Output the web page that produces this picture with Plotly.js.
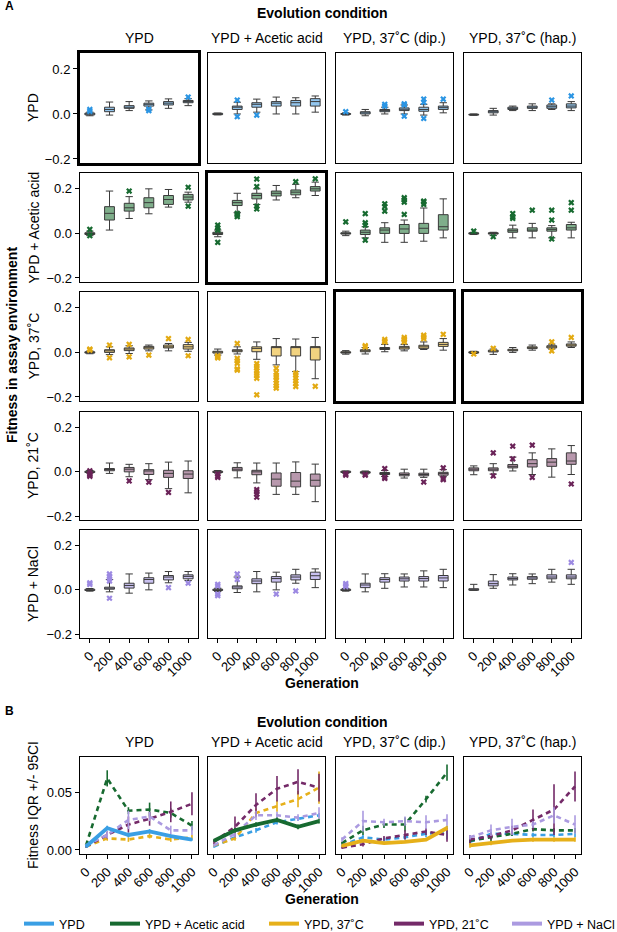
<!DOCTYPE html>
<html><head><meta charset="utf-8">
<script src="https://cdn.plot.ly/plotly-3.0.1.min.js"></script>
<style>html,body{margin:0;padding:0;background:#fff}#chart{width:617px;height:932px}</style>
</head><body><div id="chart"></div>
<script>
// ---------------- DATA ----------------
const generations = ['0','200','400','600','800','1000'];
const genNum = [0,200,400,600,800,1000];
const evoConditions = ['YPD','YPD + Acetic acid','YPD, 37˚C (dip.)','YPD, 37˚C (hap.)'];
const assayEnvs = ['YPD','YPD + Acetic acid','YPD, 37˚C','YPD, 21˚C','YPD + NaCl'];
const assayColors = ['#3a9fe4','#176a30','#e6b01a','#742a68','#ab9ae0'];
const boxFills = ['#93c6ee','#7fae8b','#f2d380','#b898ad','#c9c1f0'];
const outlierColors = ['#2b95e3','#176a30','#e3aa12','#6a2358','#9c89e2'];

// Panel A: box statistics per assay environment (row), one inner array per evolution condition (column)
const ypd_q1  = [[-0.004,0.01,0.025,0.035,0.04,0.05],[-0.003,0.02,0.03,0.035,0.035,0.035],[-0.002,0,0.01,0.015,0.012,0.02],[-0.005,0.005,0.02,0.025,0.025,0.027]];
const ypd_med = [[0,0.02,0.03,0.043,0.048,0.055],[0,0.03,0.043,0.048,0.05,0.055],[0,0.005,0.015,0.021,0.02,0.028],[-0.003,0.01,0.025,0.03,0.032,0.035]];
const ypd_q3  = [[0.004,0.03,0.037,0.048,0.055,0.06],[0.003,0.035,0.05,0.055,0.06,0.068],[0.002,0.01,0.02,0.027,0.03,0.035],[-0.001,0.015,0.03,0.035,0.04,0.045]];
const ypd_lo  = [[-0.008,-0.005,0.015,0.018,0.025,0.037],[-0.004,0,0.008,0,0,0.008],[-0.005,-0.008,0,0,-0.005,0.005],[-0.006,-0.005,0.015,0.015,0.02,0.015]];
const ypd_hi  = [[0.008,0.053,0.055,0.058,0.067,0.068],[0.004,0.052,0.066,0.075,0.072,0.08],[0.005,0.02,0.03,0.04,0.043,0.05],[0,0.025,0.035,0.045,0.045,0.055]];
const ypd_out = [[0,'0',0.02],[0,'0',0.012],[0,'600',0.022],[0,'600',0.015],[0,'1000',0.075],
  [1,'200',0.062],[1,'200',-0.012],[1,'400',-0.005],
  [2,'0',0.01],[2,'400',0.035],[2,'400',0.043],[2,'600',0.045],[2,'600',0.04],[2,'600',-0.01],[2,'800',0.066],[2,'800',0.052],[2,'800',-0.02],[2,'1000',0.066],
  [3,'800',0.062],[3,'1000',0.08]];

const aa_q1  = [[-0.005,0.06,0.1,0.115,0.13,0.15],[-0.005,0.125,0.155,0.168,0.173,0.19],[-0.003,-0.005,0,0,0,0.015],[-0.003,-0.003,0.005,0.01,0.01,0.015]];
const aa_med = [[0,0.09,0.115,0.138,0.152,0.163],[0,0.138,0.17,0.18,0.185,0.2],[0,0.005,0.015,0.02,0.023,0.03],[0,0,0.012,0.015,0.018,0.025]];
const aa_q3  = [[0.003,0.12,0.135,0.16,0.17,0.175],[0.005,0.148,0.18,0.19,0.195,0.21],[0.003,0.015,0.025,0.04,0.045,0.084],[0.003,0.003,0.02,0.025,0.025,0.04]];
const aa_lo  = [[-0.01,0.015,0.067,0.088,0.118,0.14],[-0.015,0.093,0.13,0.15,0.16,0.17],[-0.01,-0.02,-0.04,-0.04,-0.035,-0.02],[-0.005,-0.01,-0.02,-0.02,-0.02,-0.02]];
const aa_hi  = [[0.01,0.19,0.165,0.2,0.197,0.185],[0.015,0.18,0.2,0.215,0.22,0.23],[0.01,0.03,0.048,0.06,0.114,0.155],[0.005,0.005,0.037,0.045,0.035,0.05]];
const aa_out = [[0,'0',0.018],[0,'0',-0.01],[0,'400',0.19],[0,'1000',0.207],[0,'1000',0.122],
  [1,'0',0.037],[1,'0',0.025],[1,'0',0.015],[1,'0',-0.04],[1,'200',0.09],[1,'200',0.082],[1,'200',0.075],[1,'400',0.244],[1,'400',0.21],[1,'400',0.122],[1,'400',0.11],[1,'800',0.232],[1,'1000',0.245],
  [2,'0',0.052],[2,'200',0.089],[2,'200',0.048],[2,'200',0.037],[2,'200',-0.03],[2,'400',0.133],[2,'400',0.12],[2,'400',0.1],[2,'600',0.16],[2,'600',0.15],[2,'600',0.14],[2,'600',0.085],[2,'800',0.145],[2,'800',0.14],[2,'800',0.13],
  [3,'0',0.01],[3,'200',-0.015],[3,'400',0.089],[3,'400',0.074],[3,'400',0.067],[3,'600',0.104],[3,'800',0.104],[3,'800',0.06],[3,'800',-0.025],[3,'1000',0.138],[3,'1000',0.104]];

const t37_q1  = [[-0.003,0,0.008,0.015,0.02,0.015],[-0.003,0.003,0.003,-0.016,-0.016,-0.034],[-0.003,0.003,0.013,0.015,0.018,0.027],[-0.003,0.002,0.007,0.017,0.02,0.028]];
const t37_med = [[0,0.007,0.015,0.021,0.025,0.025],[0.003,0.009,0.018,0.022,0.022,0.024],[0,0.007,0.018,0.021,0.025,0.036],[0,0.006,0.01,0.021,0.025,0.033]];
const t37_q3  = [[0.003,0.012,0.02,0.027,0.033,0.035],[0.005,0.012,0.025,0.026,0.026,0.026],[0.003,0.012,0.022,0.027,0.032,0.045],[0.003,0.01,0.014,0.025,0.03,0.038]];
const t37_lo  = [[-0.006,-0.01,-0.005,0.007,0.007,0.005],[-0.012,-0.007,-0.031,-0.056,-0.086,-0.118],[-0.008,-0.007,0.003,0.007,0.013,0.01],[-0.005,-0.009,0,0.01,0.015,0.022]];
const t37_hi  = [[0.006,0.025,0.03,0.033,0.04,0.045],[0.015,0.025,0.047,0.062,0.06,0.067],[0.008,0.022,0.036,0.036,0.047,0.062],[0.005,0.015,0.022,0.033,0.037,0.047]];
const t37_out = [[0,'0',0.015],[0,'0',0.01],[0,'200',0.033],[0,'200',-0.024],[0,'400',0.036],[0,'400',-0.02],[0,'600',-0.012],[0,'800',0.062],[0,'1000',0.058],[0,'1000',-0.015],
  [1,'0',-0.015],[1,'0',-0.02],[1,'0',-0.025],[1,'200',0.04],[1,'200',-0.027],[1,'200',-0.038],[1,'200',-0.049],[1,'200',-0.074],[1,'200',-0.08],
  [1,'400',-0.05],[1,'400',-0.062],[1,'400',-0.07],[1,'400',-0.083],[1,'400',-0.094],[1,'400',-0.104],[1,'400',-0.116],[1,'400',-0.19],
  [1,'600',-0.071],[1,'600',-0.09],[1,'600',-0.103],[1,'600',-0.112],[1,'600',-0.125],[1,'600',-0.138],[1,'600',-0.15],[1,'600',-0.16],
  [1,'800',-0.093],[1,'800',-0.102],[1,'800',-0.115],[1,'800',-0.128],[1,'800',-0.14],[1,'800',-0.153],[1,'1000',-0.152],
  [2,'200',0.03],[2,'200',0.025],[2,'400',0.058],[2,'400',0.05],[2,'400',0.047],[2,'600',0.067],[2,'600',0.06],[2,'600',0.055],[2,'600',0.047],[2,'800',0.077],[2,'800',0.07],[2,'800',0.062],[2,'1000',0.081],
  [3,'0',-0.007],[3,'200',0.018],[3,'800',0.047],[3,'800',0.007],[3,'1000',0.067]];

const t21_q1  = [[-0.003,0.005,0,-0.012,-0.025,-0.03],[-0.003,0.005,-0.013,-0.065,-0.068,-0.065],[-0.003,-0.006,-0.012,-0.018,-0.018,-0.015],[0.005,0.005,0.018,0.022,0.025,0.034]];
const t21_med = [[0,0.012,0.012,0.004,-0.007,-0.01],[0,0.012,0,-0.033,-0.042,-0.038],[0,-0.003,-0.007,-0.012,-0.012,-0.007],[0.012,0.012,0.025,0.037,0.044,0.049]];
const t21_q3  = [[0.003,0.015,0.02,0.01,0.007,0.005],[0.003,0.02,0.007,-0.005,-0.003,-0.01],[0.003,0.001,-0.003,-0.005,-0.006,-0.002],[0.018,0.018,0.033,0.055,0.06,0.086]];
const t21_lo  = [[-0.006,-0.007,-0.022,-0.035,-0.076,-0.095],[-0.006,-0.027,-0.05,-0.102,-0.102,-0.135],[-0.006,-0.01,-0.021,-0.028,-0.025,-0.022],[-0.013,-0.01,0.004,-0.012,-0.024,-0.012]];
const t21_hi  = [[0.006,0.04,0.034,0.037,0.044,0.049],[0.006,0.041,0.04,0.04,0.045,0.035],[0.004,0.004,0.006,0.012,0.012,0.01],[0.027,0.037,0.067,0.086,0.104,0.119]];
const t21_out = [[0,'0',-0.01],[0,'0',-0.015],[0,'0',-0.02],[0,'0',0.005],[0,'400',-0.041],[0,'600',-0.047],[0,'800',-0.093],
  [1,'0',-0.01],[1,'0',-0.02],[1,'0',-0.025],[1,'400',-0.08],[1,'400',-0.09],[1,'400',-0.1],[1,'400',-0.115],
  [2,'0',-0.008],[2,'0',-0.015],[2,'200',-0.012],[2,'200',-0.015],[2,'400',0.015],[2,'400',-0.025],[2,'400',-0.03],[2,'800',-0.046],[2,'1000',0.018],[2,'1000',-0.03],[2,'1000',-0.035],
  [3,'200',0.086],[3,'200',-0.018],[3,'400',0.116],[3,'400',0.059],[3,'600',0.121],[3,'600',-0.025],[3,'1000',-0.055]];

const nacl_q1  = [[-0.003,0.003,0.008,0.03,0.045,0.05],[-0.003,0.005,0.028,0.035,0.045,0.047],[-0.003,0.01,0.035,0.04,0.04,0.04],[-0.002,0.018,0.045,0.048,0.05,0.05]];
const nacl_med = [[0,0.01,0.02,0.047,0.058,0.061],[0,0.013,0.04,0.051,0.058,0.064],[0,0.022,0.047,0.05,0.051,0.054],[0.003,0.028,0.051,0.054,0.058,0.058]];
const nacl_q3  = [[0.003,0.012,0.03,0.055,0.065,0.068],[0.003,0.018,0.05,0.06,0.068,0.08],[0.003,0.03,0.055,0.058,0.06,0.065],[0.005,0.04,0.058,0.06,0.068,0.068]];
const nacl_lo  = [[-0.006,-0.009,-0.015,0,0.032,0.042],[-0.007,-0.012,-0.009,0,0.03,0.01],[-0.006,-0.009,0.007,0.013,0.013,0.01],[0,0.007,0.022,0.028,0.035,0.025]];
const nacl_hi  = [[0.006,0.047,0.072,0.076,0.083,0.083],[0.007,0.058,0.083,0.08,0.093,0.095],[0.006,0.072,0.073,0.072,0.086,0.093],[0.025,0.069,0.073,0.072,0.093,0.093]];
const nacl_out = [[0,'0',0.032],[0,'0',0.025],[0,'200',0.072],[0,'200',0.061],[0,'200',0.05],[0,'200',0.04],[0,'200',-0.038],[0,'800',0.01],[0,'1000',0.03],
  [1,'0',0.025],[1,'0',0.018],[1,'0',-0.019],[1,'0',-0.026],[1,'200',0.072],[1,'200',0.047],[1,'600',-0.019],[1,'800',-0.005],
  [2,'0',0.028],[2,'0',0.02],[2,'0',0.015],
  [3,'1000',0.124]];

// Panel B: fitness IQR per evolution condition (column); rows = assay env order
const iqr_ypd = [[0.003,0.019,0.013,0.016,0.012,0.009],[0.004,0.062,0.034,0.035,0.032,0.021],[0.003,0.01,0.009,0.012,0.009,0.011],[0.003,0.013,0.022,0.027,0.033,0.04],[0.004,0.013,0.026,0.029,0.017,0.017]];
const ci_ypd  = [[0.001,0.002,0.002,0.002,0.001,0.001],[0.001,0.007,0.003,0.006,0.004,0.004],[0.001,0.002,0.002,0.002,0.002,0.002],[0.001,0.003,0.007,0.006,0.009,0.01],[0.001,0.003,0.008,0.004,0.004,0.004]];
const iqr_aa  = [[0.003,0.011,0.017,0.024,0.027,0.03],[0.008,0.017,0.022,0.026,0.02,0.025],[0.004,0.01,0.032,0.038,0.044,0.054],[0.007,0.02,0.039,0.053,0.059,0.054],[0.004,0.014,0.03,0.03,0.028,0.032]];
const ci_aa   = [[0.001,0.002,0.002,0.002,0.002,0.002],[0.001,0.002,0.002,0.002,0.002,0.002],[0.001,0.002,0.004,0.005,0.007,0.014],[0.002,0.009,0.01,0.011,0.011,0.012],[0.001,0.003,0.004,0.003,0.003,0.005]];
const iqr_dip = [[0.004,0.011,0.009,0.011,0.014,0.015],[0.006,0.017,0.022,0.022,0.044,0.067],[0.0035,0.008,0.006,0.007,0.009,0.019],[0.002,0.005,0.01,0.013,0.016,0.013],[0.009,0.025,0.024,0.025,0.024,0.026]];
const ci_dip  = [[0.001,0.002,0.002,0.002,0.003,0.006],[0.001,0.004,0.003,0.006,0.003,0.007],[0.001,0.001,0.001,0.001,0.001,0.002],[0.001,0.002,0.002,0.004,0.003,0.006],[0.002,0.009,0.003,0.004,0.006,0.005]];
const iqr_hap = [[0.007,0.014,0.014,0.013,0.013,0.014],[0.008,0.011,0.014,0.018,0.017,0.017],[0.004,0.006,0.008,0.009,0.009,0.009],[0.009,0.012,0.017,0.026,0.035,0.055],[0.011,0.017,0.02,0.022,0.03,0.022]];
const ci_hap  = [[0.003,0.002,0.002,0.002,0.002,0.003],[0.002,0.004,0.002,0.002,0.002,0.002],[0.002,0.002,0.001,0.002,0.002,0.002],[0.004,0.003,0.004,0.009,0.022,0.013],[0.002,0.005,0.007,0.003,0.007,0.008]];
const homeEnv = [0,1,2,2];

// ---------------- LAYOUT HELPERS ----------------
const W = 617, H = 932;
const colPx = [[80,198],[208,325],[336,453],[464,581]];
const rowPx = [[53,163],[173,282],[292,401],[412,520],[530,638]];
const rowBPx = [757,854];
const legendPx = [19,105,264,389,507];
const thick = {'0,0':1,'1,1':1,'2,2':1,'2,3':1};
const FONT = 'Liberation Sans, Arial, sans-serif';
const xd = p => [p[0]/W, p[1]/W];
const yd = p => [1 - p[1]/H, 1 - p[0]/H];

const stats = [
  [ypd_q1, ypd_med, ypd_q3, ypd_lo, ypd_hi, ypd_out],
  [aa_q1, aa_med, aa_q3, aa_lo, aa_hi, aa_out],
  [t37_q1, t37_med, t37_q3, t37_lo, t37_hi, t37_out],
  [t21_q1, t21_med, t21_q3, t21_lo, t21_hi, t21_out],
  [nacl_q1, nacl_med, nacl_q3, nacl_lo, nacl_hi, nacl_out]
];
const iqrs = [iqr_ypd, iqr_aa, iqr_dip, iqr_hap];
const cis = [ci_ypd, ci_aa, ci_dip, ci_hap];

const traces = [];
const layout = {
  width: W, height: H, margin: {l:0,r:0,t:0,b:0,autoexpand:false},
  paper_bgcolor: '#fff', plot_bgcolor: '#fff',
  font: {family: FONT, size: 13, color: '#000'},
  showlegend: true,
  annotations: [], boxmode: 'overlay'
};
legendPx.forEach((px, i) => {
  layout[i === 0 ? 'legend' : 'legend' + (i+1)] = {
    orientation: 'h', x: px/W, xanchor: 'left', y: 1 - 924/H, yanchor: 'middle',
    font: {size: 12.5, family: FONT, color: '#000'}, bgcolor: 'rgba(0,0,0,0)'
  };
});

for (let r = 0; r < 5; r++) {
  for (let c = 0; c < 4; c++) {
    const idx = r*4 + c + 1;
    const lw = thick[r+','+c] ? 3 : 1.3;
    const bottom = r === 4;
    layout['xaxis'+idx] = {
      domain: xd(colPx[c]), anchor: 'y'+idx, type: 'category',
      categoryorder: 'array', categoryarray: generations, range: [-0.5, 5.5],
      showline: true, mirror: true, linecolor: '#000', linewidth: lw,
      showgrid: false, zeroline: false,
      ticks: bottom ? 'outside' : '', ticklen: 4, tickcolor: '#000',
      showticklabels: bottom, tickangle: -45, tickfont: {size: 13}, fixedrange: true
    };
    layout['yaxis'+idx] = {
      domain: yd(rowPx[r]), anchor: 'x'+idx, range: [-0.218, 0.271],
      tickvals: [-0.2, 0, 0.2], tickformat: '.1f',
      showline: true, mirror: true, linecolor: '#000', linewidth: lw,
      showgrid: false, zeroline: false,
      ticks: c === 0 ? 'outside' : '', ticklen: 4, tickcolor: '#000',
      showticklabels: c === 0, tickfont: {size: 13}, fixedrange: true
    };
    const s = stats[r];
    traces.push({
      type: 'box', x: generations, q1: s[0][c], median: s[1][c], q3: s[2][c],
      lowerfence: s[3][c], upperfence: s[4][c],
      fillcolor: boxFills[r], line: {color: '#3a3a3a', width: 1},
      width: 0.5, whiskerwidth: 0.75, boxpoints: false,
      xaxis: 'x'+idx, yaxis: 'y'+idx, showlegend: false, hoverinfo: 'skip'
    });
    const outs = s[5].filter(o => o[0] === c);
    traces.push({
      type: 'scatter', mode: 'markers', x: outs.map(o => o[1]), y: outs.map(o => o[2]),
      marker: {symbol: 'x', size: 5.5, color: outlierColors[r], line: {width: 0}},
      xaxis: 'x'+idx, yaxis: 'y'+idx, showlegend: false, hoverinfo: 'skip', cliponaxis: false
    });
  }
}

// Panel B
for (let c = 0; c < 4; c++) {
  const idx = 21 + c;
  layout['xaxis'+idx] = {
    domain: xd(colPx[c]), anchor: 'y'+idx, range: [-57, 1057],
    tickvals: genNum, ticktext: generations,
    showline: true, mirror: true, linecolor: '#000', linewidth: 1.3,
    showgrid: false, zeroline: false, ticks: 'outside', ticklen: 4, tickcolor: '#000',
    tickangle: -45, tickfont: {size: 13}, fixedrange: true
  };
  layout['yaxis'+idx] = {
    domain: yd(rowBPx), anchor: 'x'+idx, range: [-0.0035, 0.0805],
    tickvals: [0, 0.05], tickformat: '.2f',
    showline: true, mirror: true, linecolor: '#000', linewidth: 1.3,
    showgrid: false, zeroline: false, ticks: c === 0 ? 'outside' : '', ticklen: 4, tickcolor: '#000',
    showticklabels: c === 0, tickfont: {size: 13}, fixedrange: true
  };
  const order = [0,1,2,3,4].filter(e => e !== homeEnv[c]).concat([homeEnv[c]]);
  order.forEach(e => {
    const home = e === homeEnv[c];
    traces.push({
      type: 'scatter', mode: 'lines', x: genNum, y: iqrs[c][e],
      error_y: {type: 'data', array: cis[c][e], visible: true, color: assayColors[e], thickness: 1.6, width: 0},
      line: {color: assayColors[e], width: home ? 3.8 : 2.6, dash: home ? 'solid' : '5px,4px'},
      xaxis: 'x'+idx, yaxis: 'y'+idx, showlegend: false, hoverinfo: 'skip'
    });
  });
}
// legend entries (one small legend per entry, placed like the reference)
assayEnvs.forEach((name, e) => {
  traces.push({type: 'scatter', mode: 'lines', x: [null], y: [null], name: name,
    legend: e === 0 ? 'legend' : 'legend' + (e+1),
    line: {color: assayColors[e], width: 4}, xaxis: 'x21', yaxis: 'y21', hoverinfo: 'skip'});
});

// annotations
const ann = (text, x, y, opts) => layout.annotations.push(Object.assign({
  text: text, x: x, y: y, xref: 'paper', yref: 'paper', showarrow: false,
  xanchor: 'center', yanchor: 'middle', font: {size: 14, family: FONT, color: '#000'}
}, opts || {}));
const colCenter = c => (colPx[c][0] + colPx[c][1]) / 2 / W;
ann('<b>A</b>', 3/W, 1 - 6/H, {xanchor: 'left', font: {size: 12, family: FONT}});
ann('<b>Evolution condition</b>', 322/W, 1 - 13/H);
ann('<b>B</b>', 3/W, 1 - 711/H, {xanchor: 'left', font: {size: 12, family: FONT}});
ann('<b>Evolution condition</b>', 322/W, 1 - 722/H);
evoConditions.forEach((t, c) => {
  ann(t, colCenter(c), 1 - 38/H);
  ann(t, colCenter(c), 1 - 742/H);
});
assayEnvs.forEach((t, r) => {
  ann(t, 33/W, 1 - (rowPx[r][0] + rowPx[r][1]) / 2 / H, {textangle: -90});
});
ann('<b>Fitness in assay environment</b>', 12/W, 1 - 345/H, {textangle: -90});
ann('<b>Generation</b>', 322/W, 1 - 683/H);
ann('Fitness IQR +/- 95CI', 33/W, 1 - 805/H, {textangle: -90});
ann('<b>Generation</b>', 322/W, 1 - 899/H);

Plotly.newPlot('chart', traces, layout, {staticPlot: true, displayModeBar: false});
</script></body></html>
